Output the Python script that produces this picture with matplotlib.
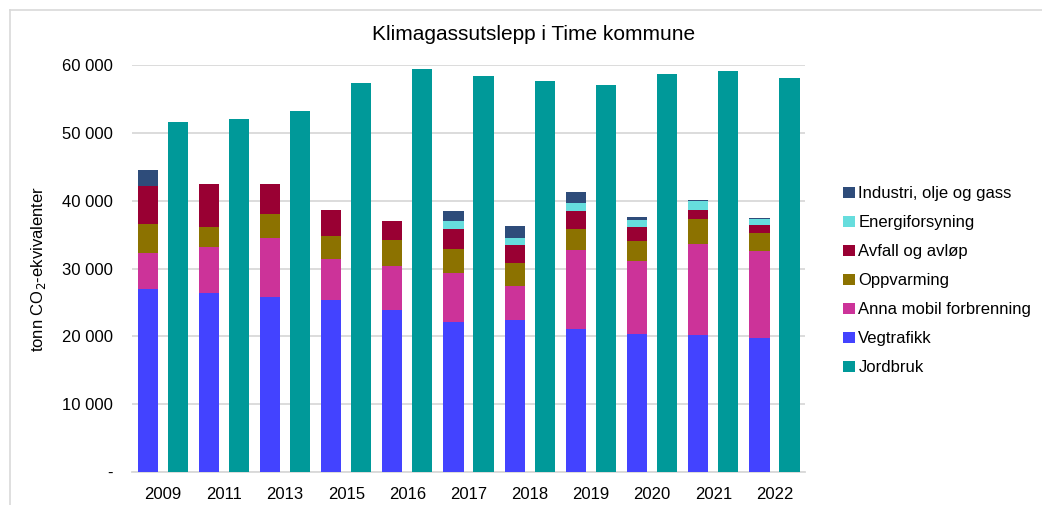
import numpy as np
import matplotlib.pyplot as plt
from matplotlib.lines import Line2D
from matplotlib.patches import Patch
from matplotlib.ticker import FuncFormatter

plt.rcParams['font.family'] = ['Liberation Sans', 'DejaVu Sans']

years = ['2009', '2011', '2013', '2015', '2016', '2017', '2018', '2019', '2020', '2021', '2022']

# tonn CO2-ekvivalenter per sektor
vegtrafikk = [27000, 26400, 25860, 25410, 23940, 22080, 22460, 21090, 20310, 20250, 19760]
anna_mobil = [5350, 6790, 8610, 5960, 6490, 7270, 4970, 11700, 10770, 13380, 12790]
oppvarming = [4240, 2950, 3580, 3390, 3790, 3540, 3440, 3100, 2950, 3640, 2700]
avfall = [5500, 6290, 4380, 3880, 2850, 2950, 2570, 2650, 2110, 1370, 1180]
energi = [0, 0, 0, 0, 0, 1130, 1120, 1140, 1070, 1290, 890]
industri = [2460, 0, 0, 0, 0, 1480, 1680, 1660, 360, 190, 190]
jordbruk = [51620, 52060, 53240, 57370, 59440, 58400, 57670, 57080, 58700, 59140, 58110]

stack = [
    ('Vegtrafikk', vegtrafikk, '#4343FF'),
    ('Anna mobil forbrenning', anna_mobil, '#CC3399'),
    ('Oppvarming', oppvarming, '#8C7200'),
    ('Avfall og avløp', avfall, '#990033'),
    ('Energiforsyning', energi, '#66DDDD'),
    ('Industri, olje og gass', industri, '#2E4C7A'),
]
jord_color = '#009999'

fig = plt.figure(figsize=(10.42, 5.05), dpi=100)
ax = fig.add_axes([0.1267, 0.0653, 0.646, 0.806])

x = np.arange(len(years))
w = 0.33
off = 0.245

bottom = np.zeros(len(years))
for name, vals, col in stack:
    vals = np.array(vals, dtype=float)
    ax.bar(x - off, vals, w, bottom=bottom, color=col, linewidth=0, zorder=3)
    bottom += vals
ax.bar(x + off, jordbruk, w, color=jord_color, linewidth=0, zorder=3)

ax.set_xlim(-0.5, len(years) - 0.5)
ax.set_ylim(0, 60000)
ax.set_yticks(np.arange(0, 60001, 10000))
ax.yaxis.set_major_formatter(FuncFormatter(
    lambda v, p: '-' if v == 0 else f'{int(v):,}'.replace(',', ' ')))
ax.set_xticks(x)
ax.set_xticklabels(years)
ax.tick_params(axis='both', length=0, labelsize=12, colors='#000000')
ax.tick_params(axis='y', pad=14)
ax.tick_params(axis='x', pad=11)

ax.grid(axis='y', color='#D9D9D9', linewidth=1.3, zorder=0)
for s in ['top', 'right', 'left']:
    ax.spines[s].set_visible(False)
ax.spines['bottom'].set_color('#D9D9D9')
ax.spines['bottom'].set_linewidth(1.3)

ax.set_ylabel('tonn CO$_2$-ekvivalenter', fontsize=12, labelpad=10)
fig.text(0.512, 0.932, 'Klimagassutslepp i Time kommune', ha='center',
         va='center', fontsize=15)

# legend: reversed stacking order, jordbruk last
handles = [Patch(facecolor=c, edgecolor='none') for _, _, c in stack[::-1]]
labels = [n for n, _, _ in stack[::-1]]
handles.append(Patch(facecolor=jord_color, edgecolor='none'))
labels.append('Jordbruk')
fig.legend(handles, labels, loc='center left', bbox_to_anchor=(0.803, 0.4436),
           frameon=False, fontsize=12, handlelength=0.7, handleheight=0.7,
           handletextpad=0.2, labelspacing=0.84, borderaxespad=0)

# thin frame on top and left
fig.add_artist(Line2D([0.0096, 1.0], [0.98, 0.98], color='#D9D9D9', lw=1.2))
fig.add_artist(Line2D([0.0096, 0.0096], [0.0, 0.98], color='#D9D9D9', lw=1.2))

fig.savefig('out.png', dpi=100)
